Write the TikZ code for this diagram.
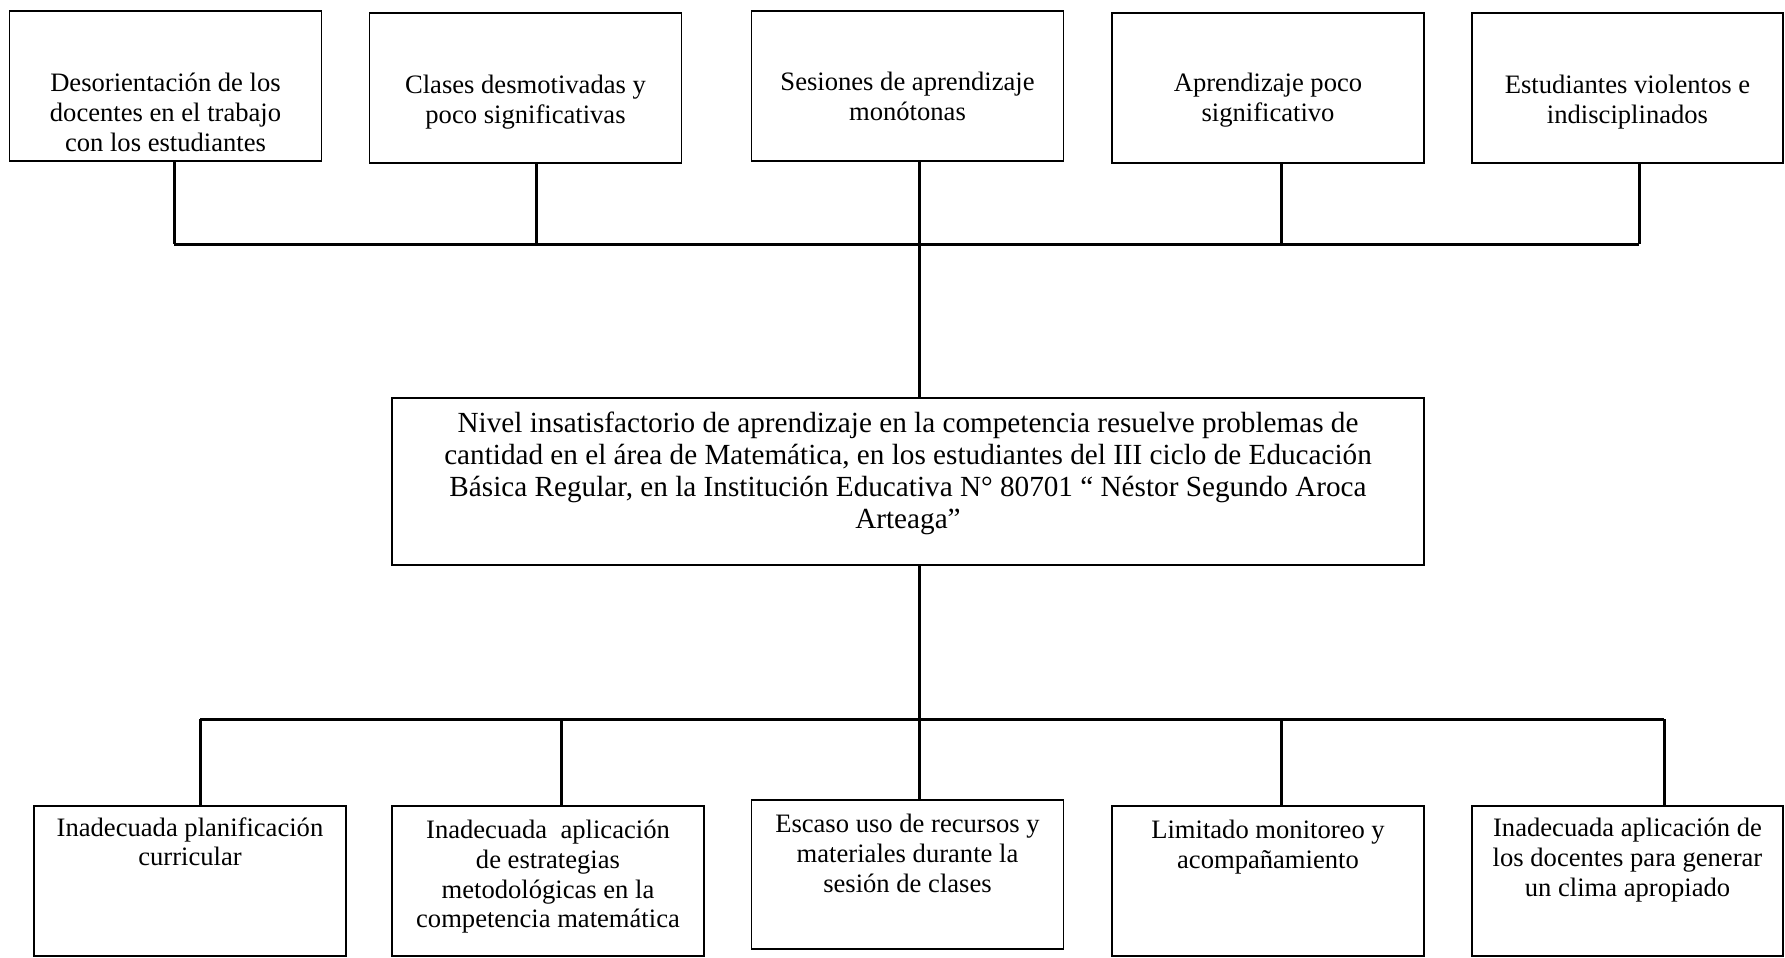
\documentclass[tikz,border=0pt]{standalone}
\usepackage{fontspec}
\setmainfont{Liberation Serif}
\begin{document}
\begin{tikzpicture}[x=0.5pt,y=-0.5pt,
  box/.style={draw=black,line width=0.6pt,inner sep=0pt,minimum width=156pt,minimum height=75pt},
  txt/.style={anchor=north,align=center,inner sep=0pt,font=\fontsize{13.3pt}{14.9pt}\selectfont},
  conn/.style={line width=1.5pt}]
\useasboundingbox (0,0) rectangle (1785,958);
% top boxes
\node[box] (b1) at (165.5,86) {};
\node[box] (b2) at (525.5,88) {};
\node[box] (b3) at (907.5,86) {};
\node[box] (b4) at (1268,88) {};
\node[box,minimum width=155.5pt] (b5) at (1627.5,88) {};
\node[txt] (t1) at (165.5,73) {Desorientación de los\\docentes en el trabajo\\con los estudiantes};
\node[txt] (t2) at (525.5,75) {Clases desmotivadas y\\poco significativas};
\node[txt] (t3) at (907.5,72) {Sesiones de aprendizaje\\monótonas};
\node[txt] (t4) at (1268,73) {Aprendizaje poco\\significativo};
\node[txt] (t5) at (1627.5,75) {Estudiantes violentos e\\indisciplinados};
% center
\node[box,minimum width=516pt,minimum height=83.5pt] (c) at (908,481.5) {};
\node[txt,font=\fontsize{14.6pt}{16pt}\selectfont] (tc) at (908,412) {Nivel insatisfactorio de aprendizaje en la competencia resuelve problemas de\\cantidad en el área de Matemática, en los estudiantes del III ciclo de Educación\\Básica Regular, en la Institución Educativa N° 80701 “ Néstor Segundo Aroca\\Arteaga”};
% bottom boxes
\node[box] (d1) at (190,881) {};
\node[box] (d2) at (548,881) {};
\node[box,minimum height=74.5pt] (d3) at (907.5,874.5) {};
\node[box] (d4) at (1268,881) {};
\node[box,minimum width=155.5pt] (d5) at (1627.5,881) {};
\node[txt] (u1) at (190,817) {Inadecuada planificación\\curricular};
\node[txt] (u2) at (548,819.5) {Inadecuada\ \ aplicación\\de estrategias\\metodológicas en la\\competencia matemática};
\node[txt] (u3) at (907.5,814) {Escaso uso de recursos y\\materiales durante la\\sesión de clases};
\node[txt] (u4) at (1268,819.5) {Limitado monitoreo y\\acompañamiento};
\node[txt] (u5) at (1627.5,817.5) {Inadecuada aplicación de\\los docentes para generar\\un clima apropiado};
% junctions
\coordinate (j1) at (174,244);
\coordinate (j2) at (536,244);
\coordinate (j3) at (919,244);
\coordinate (j4) at (1281,244);
\coordinate (j5) at (1639,244);
\coordinate (k1) at (200,719);
\coordinate (k2) at (561,719);
\coordinate (k3) at (919,719);
\coordinate (k4) at (1281,719);
\coordinate (k5) at (1664,719);
% top connectors
\draw[conn] (j1) -- (j5);
\draw[conn] (b1.south -| j1) -- (j1);
\draw[conn] (b2.south -| j2) -- (j2);
\draw[conn] (b3.south -| j3) -- (j3);
\draw[conn] (b4.south -| j4) -- (j4);
\draw[conn] (b5.south -| j5) -- (j5);
\draw[conn] (j3) -- (c.north -| j3);
% bottom connectors
\draw[conn] (c.south -| k3) -- (k3);
\draw[conn] (k1) -- (k5);
\draw[conn] (k1) -- (d1.north -| k1);
\draw[conn] (k2) -- (d2.north -| k2);
\draw[conn] (k3) -- (d3.north -| k3);
\draw[conn] (k4) -- (d4.north -| k4);
\draw[conn] (k5) -- (d5.north -| k5);
\end{tikzpicture}
\end{document}
